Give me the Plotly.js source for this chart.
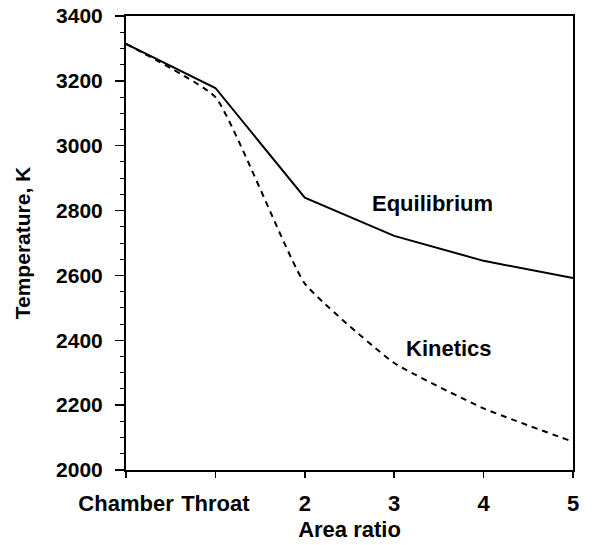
<!DOCTYPE html>
<html>
<head>
<meta charset="utf-8">
<script src="https://cdn.plot.ly/plotly-3.0.1.min.js"></script>
<style>html,body{margin:0;padding:0;background:#fff;}#chart{width:592px;height:545px;}</style>
</head>
<body>
<div id="chart"></div>
<script>
const categories = ['Chamber', 'Throat', '2', '3', '4', '5'];
const equilibrium = [3314, 3178, 2840, 2722, 2645, 2592];
const kinetics = [3314, 3150, 2575, 2330, 2190, 2087];
const yTicks = [2000, 2200, 2400, 2600, 2800, 3000, 3200, 3400];
const labels = [
  {text: 'Equilibrium', x: 3.43, y: 2822},
  {text: 'Kinetics', x: 3.61, y: 2376}
];

const FONT = 'Liberation Sans, Arial, sans-serif';

const traces = [
  {x: categories, y: equilibrium, type: 'scatter', mode: 'lines',
   line: {color: '#000', width: 2}, showlegend: false, hoverinfo: 'skip'},
  {x: categories, y: kinetics, type: 'scatter', mode: 'lines',
   line: {color: '#000', width: 2, dash: '6px,5px', shape: 'spline', smoothing: 0.4}, showlegend: false, hoverinfo: 'skip'}
];

const layout = {
  width: 592, height: 545,
  margin: {l: 126, r: 19, t: 16, b: 75},
  paper_bgcolor: '#fff', plot_bgcolor: '#fff',
  font: {family: FONT, color: '#000', size: 22},
  showlegend: false,
  xaxis: {
    type: 'category', range: [0, 5],
    showline: true, linecolor: '#000', linewidth: 2, mirror: true,
    showgrid: false, zeroline: false,
    ticks: 'outside', ticklen: 6, tickwidth: 1.5, tickcolor: '#000',
    ticklabelstandoff: 7,
    tickfont: {family: FONT, size: 22, weight: 'bold', color: '#000'},
    title: {text: 'Area ratio', font: {family: FONT, size: 22, weight: 'bold', color: '#000'}, standoff: 6}
  },
  yaxis: {
    range: [2000, 3400], tickvals: yTicks, ticktext: yTicks.map(String),
    showline: true, linecolor: '#000', linewidth: 2, mirror: true,
    showgrid: false, zeroline: false,
    ticks: 'outside', ticklen: 9, tickwidth: 1.5, tickcolor: '#000',
    ticklabelstandoff: 8,
    minor: {dtick: 50, ticks: 'outside', ticklen: 4, tickwidth: 1, tickcolor: '#000', showgrid: false},
    tickfont: {family: FONT, size: 21, weight: 'bold', color: '#000'},
    title: {text: 'Temperature, K', font: {family: FONT, size: 21, weight: 'bold', color: '#000'}, standoff: 20}
  },
  annotations: labels.map(a => ({
    text: a.text, x: a.x, y: a.y, xref: 'x', yref: 'y', showarrow: false,
    font: {family: FONT, size: 22, weight: 'bold', color: '#000'}
  }))
};

Plotly.newPlot('chart', traces, layout, {displayModeBar: false, staticPlot: true});
</script>
</body>
</html>
